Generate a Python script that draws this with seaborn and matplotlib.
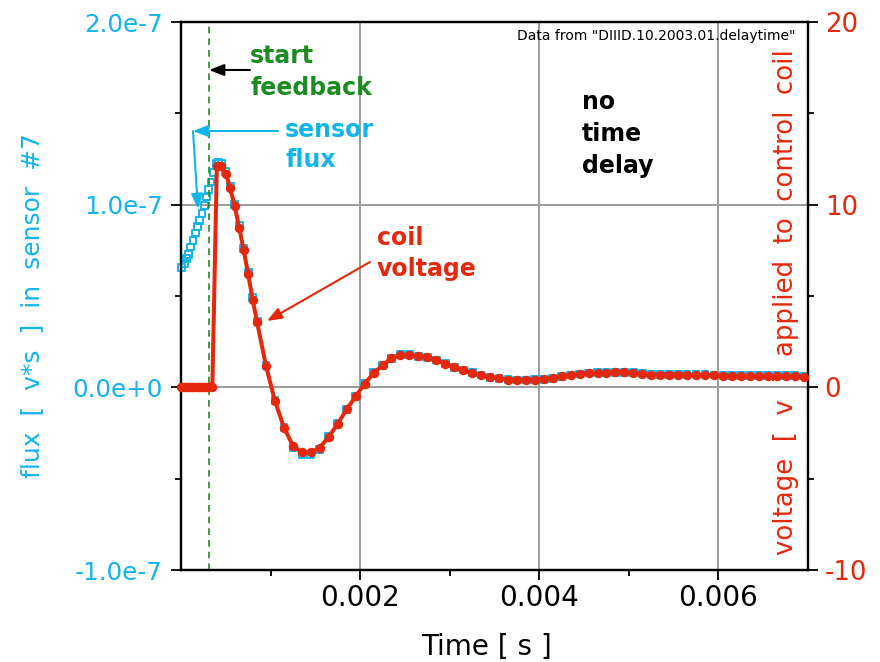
import matplotlib
matplotlib.use("Agg")
import matplotlib.pyplot as plt
from matplotlib.ticker import FixedLocator
import numpy as np
import pandas as pd
import seaborn as sns

# ---------------- data ----------------
# coil voltage [V] vs time [s]
t_coil = [0.0, 0.000025, 0.00005, 0.000075, 0.0001, 0.000125, 0.00015, 0.000175,
          0.0002, 0.000225, 0.00025, 0.000275, 0.0003, 0.000325, 0.00035,
          0.0004, 0.00045, 0.0005, 0.00055, 0.0006, 0.00065, 0.0007, 0.00075,
          0.0008, 0.00085,
          0.00095, 0.00105, 0.00115, 0.00125, 0.00135, 0.00145, 0.00155, 0.00165,
          0.00175, 0.00185, 0.00195, 0.00205, 0.00215, 0.00225, 0.00235, 0.00245,
          0.00255, 0.00265, 0.00275, 0.00285, 0.00295, 0.00305, 0.00315, 0.00325,
          0.00335, 0.00345, 0.00355, 0.00365, 0.00375, 0.00385, 0.00395, 0.00405,
          0.00415, 0.00425, 0.00435, 0.00445, 0.00455, 0.00465, 0.00475, 0.00485,
          0.00495, 0.00505, 0.00515, 0.00525, 0.00535, 0.00545, 0.00555, 0.00565,
          0.00575, 0.00585, 0.00595, 0.00605, 0.00615, 0.00625, 0.00635, 0.00645,
          0.00655, 0.00665, 0.00675, 0.00685, 0.00695]
v_coil = [0, 0, 0, 0, 0, 0, 0, 0, 0, 0, 0, 0, 0, 0, 0,
          12.1, 12.1, 11.7, 10.9, 9.9, 8.75, 7.5, 6.2, 4.8, 3.55,
          1.15, -0.77, -2.2, -3.2, -3.56, -3.56, -3.3, -2.7,
          -2.0, -1.2, -0.5, 0.2, 0.77, 1.2, 1.6, 1.75,
          1.75, 1.7, 1.64, 1.48, 1.3, 1.1, 0.93, 0.77,
          0.66, 0.55, 0.49, 0.42, 0.4, 0.4, 0.42, 0.44,
          0.5, 0.6, 0.66, 0.72, 0.77, 0.77, 0.8, 0.82,
          0.82, 0.8, 0.72, 0.7, 0.7, 0.7, 0.7, 0.7,
          0.68, 0.68, 0.66, 0.62, 0.6, 0.6, 0.6, 0.6,
          0.6, 0.62, 0.62, 0.6, 0.58]

# sensor flux [1e-7 v*s] vs time [s]
t_flux = [0.00001, 0.000035, 0.00006, 0.000085, 0.00011, 0.000135, 0.00016,
          0.000185, 0.00021, 0.000235, 0.00026, 0.000285, 0.00031, 0.000335,
          0.00036, 0.00039, 0.00042, 0.00045,
          0.0005, 0.00055, 0.0006, 0.00065, 0.0007, 0.00075, 0.0008, 0.00085,
          0.00095, 0.00105, 0.00115, 0.00125, 0.00135, 0.00145, 0.00155, 0.00165,
          0.00175, 0.00185, 0.00195, 0.00205, 0.00215, 0.00225, 0.00235, 0.00245,
          0.00255, 0.00265, 0.00275, 0.00285, 0.00295, 0.00305, 0.00315, 0.00325,
          0.00335, 0.00345, 0.00355, 0.00365, 0.00375, 0.00385, 0.00395, 0.00405,
          0.00415, 0.00425, 0.00435, 0.00445, 0.00455, 0.00465, 0.00475, 0.00485,
          0.00495, 0.00505, 0.00515, 0.00525, 0.00535, 0.00545, 0.00555, 0.00565,
          0.00575, 0.00585, 0.00595, 0.00605, 0.00615, 0.00625, 0.00635, 0.00645,
          0.00655, 0.00665, 0.00675, 0.00685, 0.00695]
flux_e7 = [0.658, 0.68, 0.704, 0.728, 0.768, 0.805, 0.845, 0.881, 0.914, 0.951,
           0.996, 1.042, 1.082, 1.124, 1.178, 1.224, 1.233, 1.228,
           1.18, 1.10, 1.00, 0.885, 0.76, 0.63, 0.49, 0.36,
           0.12, -0.07, -0.22, -0.33, -0.37, -0.37, -0.34, -0.27,
           -0.20, -0.12, -0.05, 0.02, 0.08, 0.12, 0.16, 0.18,
           0.18, 0.17, 0.165, 0.15, 0.13, 0.11, 0.095, 0.08,
           0.067, 0.056, 0.05, 0.043, 0.04, 0.04, 0.043, 0.045,
           0.05, 0.06, 0.067, 0.073, 0.078, 0.08, 0.082, 0.083,
           0.083, 0.081, 0.074, 0.071, 0.071, 0.071, 0.071, 0.071,
           0.07, 0.07, 0.068, 0.065, 0.063, 0.063, 0.063, 0.063,
           0.063, 0.063, 0.064, 0.064, 0.062]

feedback_start = 0.00031

time_ticks = [0.002, 0.004, 0.006]
time_tick_labels = ["0.002", "0.004", "0.006"]
time_minor = [0.001, 0.003, 0.005]
flux_ticks = [-1e-7, 0.0, 1e-7, 2e-7]
flux_tick_labels = ["-1.0e-7", "0.0e+0", "1.0e-7", "2.0e-7"]
flux_minor = [-0.5e-7, 0.5e-7, 1.5e-7]
volt_ticks = [-10, 0, 10, 20]
volt_tick_labels = ["-10", "0", "10", "20"]
volt_minor = [-5, 5, 15]

# ---------------- style ----------------
CYAN = "#12b4ec"
RED = "#e5280c"
GREEN = "#1c8c22"
GRID = "#9c9c9c"
FONT = "DejaVu Sans"
plt.rcParams["font.family"] = [FONT]

df_coil = pd.DataFrame({"t": t_coil, "V": v_coil})
df_flux = pd.DataFrame({"t": t_flux, "flux": np.array(flux_e7) * 1e-7})

W, H = 880, 662
fig = plt.figure(figsize=(W / 100, H / 100), dpi=100)
L, R, T, B = 181, 808, 22, 570
ax = fig.add_axes([L / W, 1 - B / H, (R - L) / W, (B - T) / H])
ax2 = ax.twinx()

# sensor flux (hollow squares)
sns.scatterplot(data=df_flux, x="t", y="flux", ax=ax, marker="s", s=24,
                facecolors="none", edgecolors=CYAN, linewidth=1.4,
                legend=False, zorder=3, clip_on=False)

# coil voltage (red line with dots)
sns.lineplot(data=df_coil, x="t", y="V", ax=ax2, color=RED, lw=2.9,
             marker="o", markersize=7, markeredgewidth=0, sort=False,
             estimator=None, legend=False, clip_on=False, zorder=4)
for ln in ax2.get_lines():
    ln.set_markersize(6.8)
    ln.set_markeredgewidth(0)
    ln.set_linewidth(2.9)

ax.set_xlim(0, 0.007)
ax.set_ylim(-1e-7, 2e-7)
ax2.set_ylim(-10, 20)

ax.set_xticks(time_ticks)
ax.set_xticklabels(time_tick_labels)
ax.xaxis.set_minor_locator(FixedLocator(time_minor))
ax.set_yticks(flux_ticks)
ax.set_yticklabels(flux_tick_labels)
ax.yaxis.set_minor_locator(FixedLocator(flux_minor))
ax2.set_yticks(volt_ticks)
ax2.set_yticklabels(volt_tick_labels)
ax2.yaxis.set_minor_locator(FixedLocator(volt_minor))

ax.grid(True, which="major", color=GRID, lw=1.4)
ax.set_axisbelow(True)
ax.set_xlabel("")
ax.set_ylabel("")
ax2.set_ylabel("")

for a in (ax, ax2):
    for s in a.spines.values():
        s.set_linewidth(1.6)
        s.set_color("black")

ax.tick_params(axis="x", which="major", direction="out", length=7, width=1.3,
               labelsize=20, pad=3, labelcolor="black")
ax.tick_params(axis="x", which="minor", direction="out", length=4, width=1.3)
ax.tick_params(axis="y", which="major", direction="out", length=7, width=1.3,
               labelsize=17.7, pad=6, labelcolor=CYAN)
ax.tick_params(axis="y", which="minor", direction="out", length=4, width=1.3)
ax2.tick_params(axis="y", which="major", direction="out", length=7, width=1.3,
                labelsize=18.7, pad=5, labelcolor=RED)
ax2.tick_params(axis="y", which="minor", direction="out", length=4, width=1.3)

# start-of-feedback marker
ax2.axvline(feedback_start, color=GREEN, lw=1.2, ls=(0, (4, 3)), zorder=2)

# axis titles
fig.text(486 / W, 1 - 655 / H, "Time [ s ]", fontsize=20, color="black",
         ha="center", va="baseline")
fig.text(32 / W, 1 - 305 / H, "flux  [  v*s  ]  in  sensor  #7", fontsize=18,
         color=CYAN, rotation=90, ha="center", va="center")
fig.text(786 / W, 1 - 302 / H, "voltage  [  v  ]  applied  to  control  coil",
         fontsize=18.7, color=RED, rotation=90, ha="center", va="center")


def pxd(x, y):
    """figure pixel (from top-left) -> ax2 data coordinates"""
    return ((x - L) / (R - L) * 0.007, 20 - (y - T) / (B - T) * 30)


def label(x, y, s, color, size=17, weight="bold"):
    ax2.text(*pxd(x, y), s, color=color, fontsize=size, fontweight=weight,
             ha="left", va="baseline", zorder=6)


label(250, 63, "start", GREEN)
label(250, 95, "feedback", GREEN)
label(285, 137, "sensor", CYAN)
label(285, 167, "flux", CYAN)
label(377, 245, "coil", RED)
label(377, 276, "voltage", RED)
label(582, 109, "no", "black")
label(582, 141, "time", "black")
label(582, 173, "delay", "black")
ax2.text(*pxd(795, 40), 'Data from "DIIID.10.2003.01.delaytime"', fontsize=10,
         color="black", ha="right", va="baseline", zorder=6)


def arrow(p0, p1, color):
    ax2.annotate("", xy=pxd(*p1), xytext=pxd(*p0),
                 arrowprops=dict(arrowstyle="-|>,head_length=0.9,head_width=0.35",
                                 color=color, lw=1.5, shrinkA=0, shrinkB=0),
                 zorder=6)


arrow((250, 70), (209, 70), "black")
arrow((278, 131), (193, 131), CYAN)
arrow((193, 131), (198, 209), CYAN)
arrow((370, 262), (267, 321), RED)

fig.savefig("out.png", dpi=100)
